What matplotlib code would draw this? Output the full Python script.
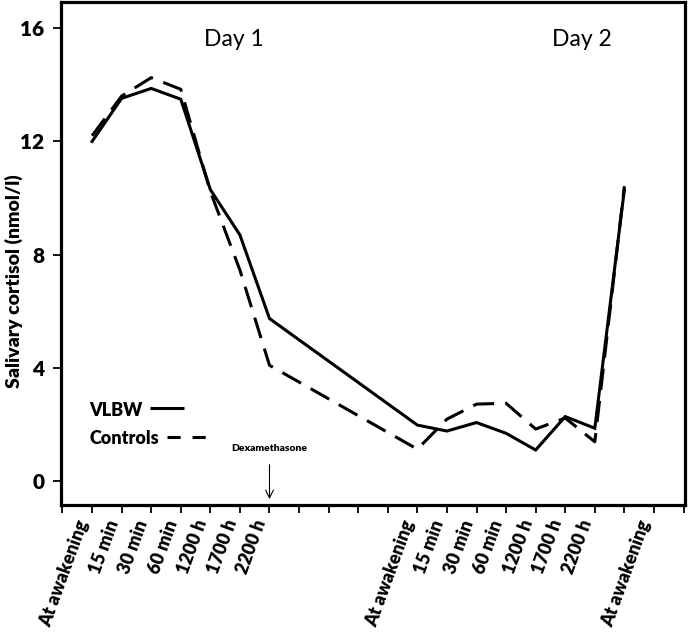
import matplotlib
matplotlib.use("Agg")
import matplotlib.pyplot as plt
from matplotlib.lines import Line2D

plt.rcParams['font.family'] = ['Lato', 'DejaVu Sans']
BOLD = 'heavy'

# ---- data ----
day1_labels = ["At awakening", "15 min", "30 min", "60 min", "1200 h", "1700 h", "2200 h"]
day2_labels = ["At awakening", "15 min", "30 min", "60 min", "1200 h", "1700 h", "2200 h", "At awakening"]
vlbw_day1 = [12.0, 13.52, 13.87, 13.49, 10.3, 8.7, 5.75]
vlbw_day2 = [1.99, 1.78, 2.08, 1.70, 1.11, 2.29, 1.88, 10.3]
ctrl_day1 = [12.2, 13.6, 14.25, 13.84, 10.23, 7.46, 4.1]
ctrl_day2 = [1.14, 2.2, 2.73, 2.76, 1.85, 2.24, 1.40, 10.42]
y_ticks = [0, 4, 8, 12, 16]

# category slot layout (tick slots along the x axis)
n_slots = 22
day1_start = 1
day2_start = 12
last_label_slot = 20  # final "At awakening" label sits one slot right of its point

x1 = [day1_start + i for i in range(len(day1_labels))]
x2 = [day2_start + i for i in range(len(day2_labels))]
xs = x1 + x2
vlbw = vlbw_day1 + vlbw_day2
ctrl = ctrl_day1 + ctrl_day2

fig = plt.figure(figsize=(6.88, 6.36), dpi=100)
ax = fig.add_axes([61/688, 1 - 505/636, 624/688, 503/636])

lw = 2.2
ax.plot(xs, vlbw, color='black', lw=lw, solid_joinstyle='miter')
ln, = ax.plot(xs, ctrl, color='black', lw=lw)
ln.set_dashes([7, 3.6])

ax.set_xlim(-0.05, 21.05)
ax.set_ylim(-0.83, 16.92)

tick_labels = [""] * n_slots
for i, lab in enumerate(day1_labels):
    tick_labels[day1_start + i] = lab
for i, lab in enumerate(day2_labels[:-1]):
    tick_labels[day2_start + i] = lab
tick_labels[last_label_slot] = day2_labels[-1]
ax.set_xticks(range(n_slots))
ax.set_xticklabels(tick_labels, rotation=70, ha='right', va='top',
                   fontsize=13, fontweight=BOLD)
ax.set_yticks(y_ticks)
ax.set_yticklabels([str(v) for v in y_ticks], fontsize=15, fontweight=BOLD)
ax.tick_params(axis='both', direction='out', length=6, width=1.3, color='black')
ax.tick_params(axis='y', pad=6)
ax.tick_params(axis='x', pad=3)

for s in ax.spines.values():
    s.set_linewidth(2.3)
    s.set_color('black')

ax.set_ylabel("Salivary cortisol (nmol/l)", fontsize=14, fontweight=BOLD)
ax.yaxis.set_label_coords((23-61)/624, (505-281)/503)

ax.text((234-61)/624, (505-40)/503, "Day 1", transform=ax.transAxes, fontsize=16.5,
        ha='center', va='center')
ax.text((582-61)/624, (505-40)/503, "Day 2", transform=ax.transAxes, fontsize=16.5,
        ha='center', va='center')

# manual legend
ax.text((89-61)/624, (505-410)/503, "VLBW", transform=ax.transAxes, fontsize=13,
        fontweight=BOLD, ha='left', va='center')
ax.text((89-61)/624, (505-438)/503, "Controls", transform=ax.transAxes, fontsize=13,
        fontweight=BOLD, ha='left', va='center')
ax.add_line(Line2D([(150-61)/624, (184-61)/624], [(505-408)/503]*2, transform=ax.transAxes,
                   color='black', lw=lw, solid_capstyle='butt'))
l2 = Line2D([(167-61)/624, (206-61)/624], [(505-437)/503]*2, transform=ax.transAxes,
            color='black', lw=lw, dash_capstyle='butt')
l2.set_dashes([4.3, 3.9])
ax.add_line(l2)

# dexamethasone annotation
ax.annotate("", xy=(x1[-1], -0.72), xytext=(x1[-1], 0.69),
            arrowprops=dict(arrowstyle='->', lw=0.8, color='black', mutation_scale=14))
ax.text(x1[-1], 1.15, "Dexamethasone", fontsize=7.5, fontweight=BOLD, ha='center', va='center')

fig.savefig("out.png", dpi=100)
